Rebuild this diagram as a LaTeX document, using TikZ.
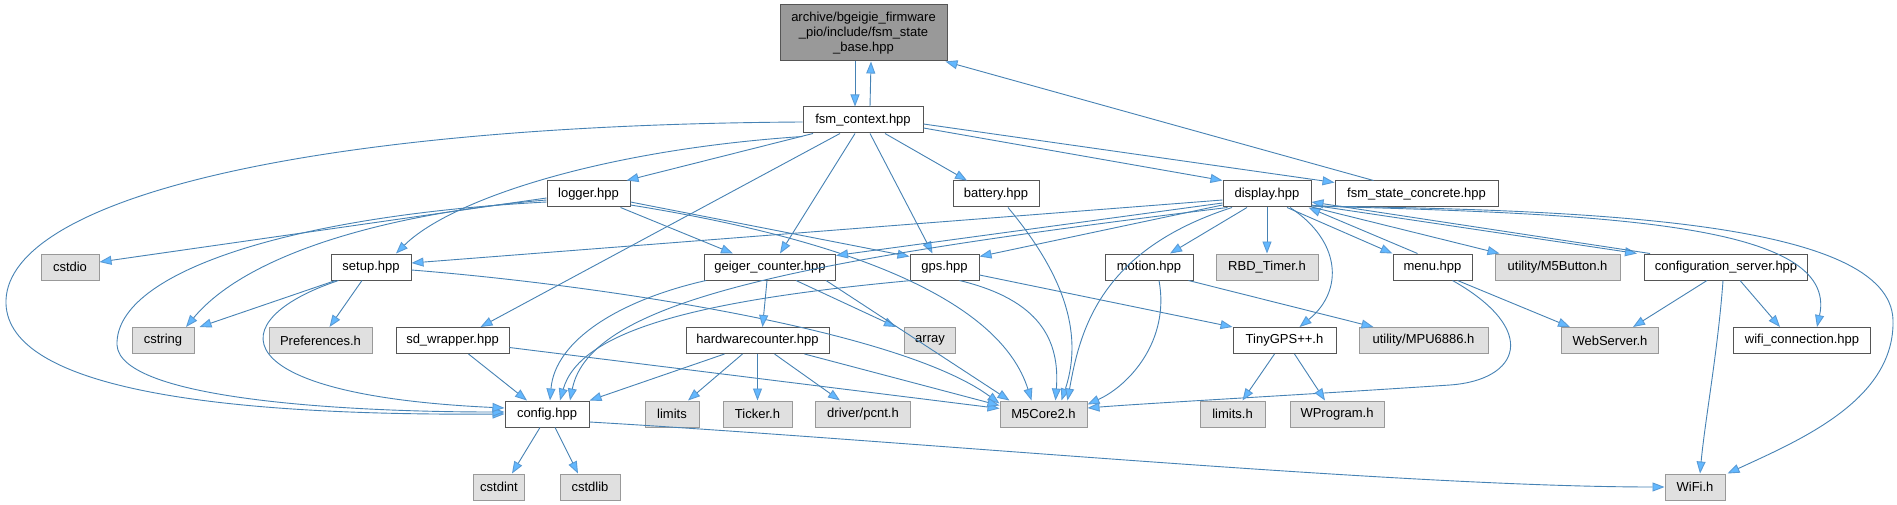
\documentclass[tikz,border=0pt]{standalone}
\usepackage{fontspec}
\setmainfont{Liberation Sans}
\usetikzlibrary{arrows.meta}
\definecolor{edgec}{HTML}{4682B4}
\definecolor{arrowc}{HTML}{63B8FF}
\definecolor{arrowd}{HTML}{5A9BD5}
\definecolor{rootfill}{HTML}{999999}
\definecolor{extfill}{HTML}{E0E0E0}
\definecolor{extdraw}{HTML}{999999}
\definecolor{docdraw}{HTML}{555555}
\begin{document}
\begin{tikzpicture}[x=1pt,y=-1pt,
  every node/.style={font=\fontsize{13}{15}\selectfont, inner sep=0pt, minimum height=26pt, line width=1pt},
  doc/.style={draw=docdraw, fill=white},
  ext/.style={draw=extdraw, fill=extfill},
  root/.style={draw=docdraw, fill=rootfill, align=center, minimum height=56pt, minimum width=167pt},
  dep/.style={draw=edgec, line width=0.9pt, -{Triangle[length=12pt,width=9pt,fill=arrowc,color=arrowd]}}
]
\useasboundingbox (0,0) rectangle (1897,505);
\fill[white] (0,0) rectangle (1897,505);

% ---------- nodes ----------
\node[root] (top) at (863.5,33) {archive/bgeigie\_firmware\\\_pio/include/fsm\_state\\\_base.hpp};
\node[doc, minimum width=120pt] (ctx) at (863,120) {fsm\_context.hpp};
\node[doc, minimum width=83pt] (logger) at (588.5,194) {logger.hpp};
\node[doc, minimum width=86pt] (battery) at (996,194) {battery.hpp};
\node[doc, minimum width=88pt] (display) at (1267,194) {display.hpp};
\node[doc, minimum width=163pt] (concrete) at (1416.5,194) {fsm\_state\_concrete.hpp};
\node[ext, minimum width=58pt] (cstdio) at (70,267) {cstdio};
\node[doc, minimum width=80pt] (setup) at (371,267) {setup.hpp};
\node[doc, minimum width=131pt] (geiger) at (770,267) {geiger\_counter.hpp};
\node[doc, minimum width=69pt] (gps) at (944.5,267) {gps.hpp};
\node[doc, minimum width=88pt] (motion) at (1149,267) {motion.hpp};
\node[ext, minimum width=102pt] (rbd) at (1267,267) {RBD\_Timer.h};
\node[doc, minimum width=79pt] (menu) at (1432.5,267) {menu.hpp};
\node[ext, minimum width=125pt] (mbtn) at (1557.5,267) {utility/M5Button.h};
\node[doc, minimum width=163pt] (cfgsrv) at (1726,267) {configuration\_server.hpp};
\node[ext, minimum width=62pt] (cstring) at (163,340.5) {cstring};
\node[ext, minimum width=103pt] (prefs) at (320.5,340.5) {Preferences.h};
\node[doc, minimum width=113pt] (sdw) at (452.5,340.5) {sd\_wrapper.hpp};
\node[doc, minimum width=143pt] (hwc) at (757.5,340.5) {hardwarecounter.hpp};
\node[ext, minimum width=51pt] (array) at (930,340.5) {array};
\node[doc, minimum width=103pt] (tgps) at (1284.5,340.5) {TinyGPS++.h};
\node[ext, minimum width=129pt] (mpu) at (1423.5,340.5) {utility/MPU6886.h};
\node[ext, minimum width=97pt] (websrv) at (1610,340.5) {WebServer.h};
\node[doc, minimum width=137pt] (wconn) at (1802,340.5) {wifi\_connection.hpp};
\node[doc, minimum width=84pt] (config) at (547,414) {config.hpp};
\node[ext, minimum width=54pt] (limits) at (672,414) {limits};
\node[ext, minimum width=69pt] (ticker) at (757.5,414) {Ticker.h};
\node[ext, minimum width=95pt] (pcnt) at (863,414) {driver/pcnt.h};
\node[ext, minimum width=87pt] (m5) at (1043.5,414) {M5Core2.h};
\node[ext, minimum width=65pt] (limitsh) at (1232.5,414) {limits.h};
\node[ext, minimum width=94pt] (wprog) at (1337,414) {WProgram.h};
\node[ext, minimum width=51pt] (cstdint) at (499,487) {cstdint};
\node[ext, minimum width=60pt] (cstdlib) at (590,487) {cstdlib};
\node[ext, minimum width=60pt] (wifi) at (1695,487) {WiFi.h};

% ---------- edges ----------
% base <-> context, concrete -> base
\draw[dep] ([xshift=-8.5pt]top.south) -- ([xshift=-8pt]ctx.north);
\draw[dep] ([xshift=7pt]ctx.north) -- ([xshift=7.5pt]top.south);
\draw[dep] ([xshift=-43pt]concrete.north) -- ([xshift=-2pt]top.south east);

% fsm_context
\draw[dep] ([yshift=-2pt]ctx.west) .. controls (300,125) and (10,200) .. (6,300) .. controls (3,385) and (200,416) .. (config.west);
\draw[dep] ([yshift=-3pt]ctx.south west) .. controls (600,150) and (450,200) .. ([xshift=25pt]setup.north);
\draw[dep] ([xshift=-23pt]ctx.south) -- ([xshift=28pt]sdw.north);
\draw[dep] ([xshift=-50pt]ctx.south) -- ([xshift=-4pt]logger.north east);
\draw[dep] ([xshift=-8pt]ctx.south) -- ([xshift=10pt]geiger.north);
\draw[dep] ([xshift=7pt]ctx.south) -- ([xshift=-12pt]gps.north);
\draw[dep] ([xshift=22pt]ctx.south) -- ([xshift=-29pt]battery.north);
\draw[dep] ([yshift=-8pt]ctx.east) -- (display.north west);
\draw[dep] ([yshift=-4pt]ctx.east) -- ([yshift=-2pt]concrete.north west);

% logger
\draw[dep] ([yshift=-4pt]logger.west) -- ([yshift=5pt]cstdio.east);
\draw[dep] ([yshift=-6pt]logger.west) .. controls (400,212) and (250,250) .. ([xshift=23pt]cstring.north);
\draw[dep] ([yshift=-8pt]logger.west) .. controls (300,215) and (115,270) .. (117,345) .. controls (120,400) and (350,412) .. ([yshift=2pt]config.west);
\draw[dep] ([xshift=-10pt]logger.south east) -- ([xshift=-37pt]geiger.north);
\draw[dep] ([yshift=-8pt]logger.east) -- ([yshift=-3pt]gps.north west);
\draw[dep] ([yshift=-11pt]logger.east) .. controls (850,240) and (1000,300) .. ([xshift=-12pt]m5.north);

% setup
\draw[dep] ([xshift=5pt]setup.south west) -- ([xshift=5pt]cstring.north east);
\draw[dep] ([xshift=-9pt]setup.south) -- ([xshift=9pt]prefs.north);
\draw[dep] ([xshift=8pt]setup.south west) .. controls (220,320) and (220,395) .. ([yshift=6pt]config.west);
\draw[dep] ([yshift=-3pt]setup.east) .. controls (600,285) and (900,330) .. ([yshift=-3pt]m5.north west);

% sd_wrapper
\draw[dep] ([xshift=16pt]sdw.south) -- ([xshift=-20pt]config.north);
\draw[dep] ([yshift=-7pt]sdw.east) -- ([yshift=-8pt]m5.north west);

% geiger_counter
\draw[dep] ([xshift=-3pt]geiger.south) -- ([xshift=5pt]hwc.north);
\draw[dep] ([xshift=26pt]geiger.south) -- ([xshift=-34pt]array.north);
\draw[dep] ([xshift=-10pt]geiger.south east) -- ([xshift=10pt]m5.north west);
\draw[dep] ([xshift=2pt]geiger.south west) .. controls (620,300) and (555,340) .. ([xshift=3pt]config.north);

% gps
\draw[dep] ([yshift=-8pt]gps.east) -- (tgps.north west);
\draw[dep] ([xshift=15pt]gps.south) .. controls (1040,300) and (1060,340) .. ([xshift=12pt]m5.north);
\draw[dep] ([xshift=2pt]gps.south west) .. controls (700,300) and (580,330) .. ([xshift=13pt]config.north);

% battery
\draw[dep] ([xshift=12pt]battery.south) .. controls (1060,270) and (1085,330) .. ([xshift=18pt]m5.north);

% display
\draw[dep] ([yshift=-6pt]display.west) -- ([yshift=4pt]setup.east);
\draw[dep] ([yshift=-9pt]display.west) -- ([yshift=-2pt]geiger.north east);
\draw[dep] ([yshift=-11pt]display.west) -- ([yshift=-3pt]gps.north east);
\draw[dep] ([xshift=5pt]display.south west) .. controls (800,260) and (590,300) .. ([xshift=23pt]config.north);
\draw[dep] ([xshift=-20pt]display.south) -- ([xshift=21pt]motion.north);
\draw[dep] (display.south) -- (rbd.north);
\draw[dep] ([xshift=-35pt]display.south) .. controls (1100,250) and (1080,330) .. ([xshift=24pt]m5.north);
\draw[dep] ([xshift=23pt]display.south) .. controls (1340,240) and (1345,290) .. ([xshift=15pt]tgps.north);
\draw[dep] ([xshift=20pt]display.south) -- (menu.north west);
\draw[dep] ([xshift=-15pt]menu.north) -- ([xshift=-3pt]display.south east);
\draw[dep] ([yshift=-13pt]display.east) -- ([xshift=5pt]mbtn.north west);
\draw[dep] ([yshift=-11pt]display.east) -- ([xshift=-7pt]cfgsrv.north west);
\draw[dep] ([xshift=6pt]cfgsrv.north west) -- ([yshift=-8pt]display.east);
\draw[dep] ([yshift=-12pt]display.east) .. controls (1600,214) and (1840,222) .. ([xshift=15pt]wconn.north);
\draw[dep] ([yshift=-12pt]display.east) .. controls (1600,210) and (1890,222) .. (1893,320) .. controls (1895,400) and (1800,440) .. ([xshift=2pt]wifi.north east);

% motion
\draw[dep] ([xshift=10pt]motion.south) .. controls (1170,340) and (1130,385) .. ([yshift=-4pt]m5.north east);
\draw[dep] ([xshift=-5pt]motion.south east) -- ([xshift=-50pt]mpu.north);

% menu
\draw[dep] ([xshift=25pt]menu.south) -- ([xshift=-40pt]websrv.north);
\draw[dep] ([xshift=20pt]menu.south) .. controls (1540,330) and (1520,380) .. (1450,385) .. controls (1300,395) and (1150,403) .. ([yshift=6pt]m5.east);

% configuration_server
\draw[dep] ([xshift=-19pt]cfgsrv.south) -- ([xshift=23pt]websrv.north);
\draw[dep] ([xshift=14pt]cfgsrv.south) -- ([xshift=-22pt]wconn.north);
\draw[dep] ([xshift=-3pt]cfgsrv.south) .. controls (1718,350) and (1705,420) .. ([xshift=5pt]wifi.north);

% TinyGPS++
\draw[dep] ([xshift=-10pt]tgps.south) -- ([xshift=10pt]limitsh.north);
\draw[dep] ([xshift=10pt]tgps.south) -- ([xshift=-12pt]wprog.north);

% hardwarecounter
\draw[dep] ([xshift=-15pt]hwc.south) -- ([xshift=16pt]limits.north);
\draw[dep] (hwc.south) -- (ticker.north);
\draw[dep] ([xshift=17pt]hwc.south) -- ([xshift=-23pt]pcnt.north);
\draw[dep] ([xshift=-25pt]hwc.south east) -- ([yshift=-5pt]m5.north west);
\draw[dep] ([xshift=-33pt]hwc.south) -- (config.north east);

% config
\draw[dep] ([xshift=-7pt]config.south) -- ([xshift=13pt]cstdint.north);
\draw[dep] ([xshift=8pt]config.south) -- ([xshift=-12pt]cstdlib.north);
\draw[dep] ([yshift=-8pt]config.east) .. controls (900,440) and (1400,487) .. (wifi.west);
\end{tikzpicture}
\end{document}
